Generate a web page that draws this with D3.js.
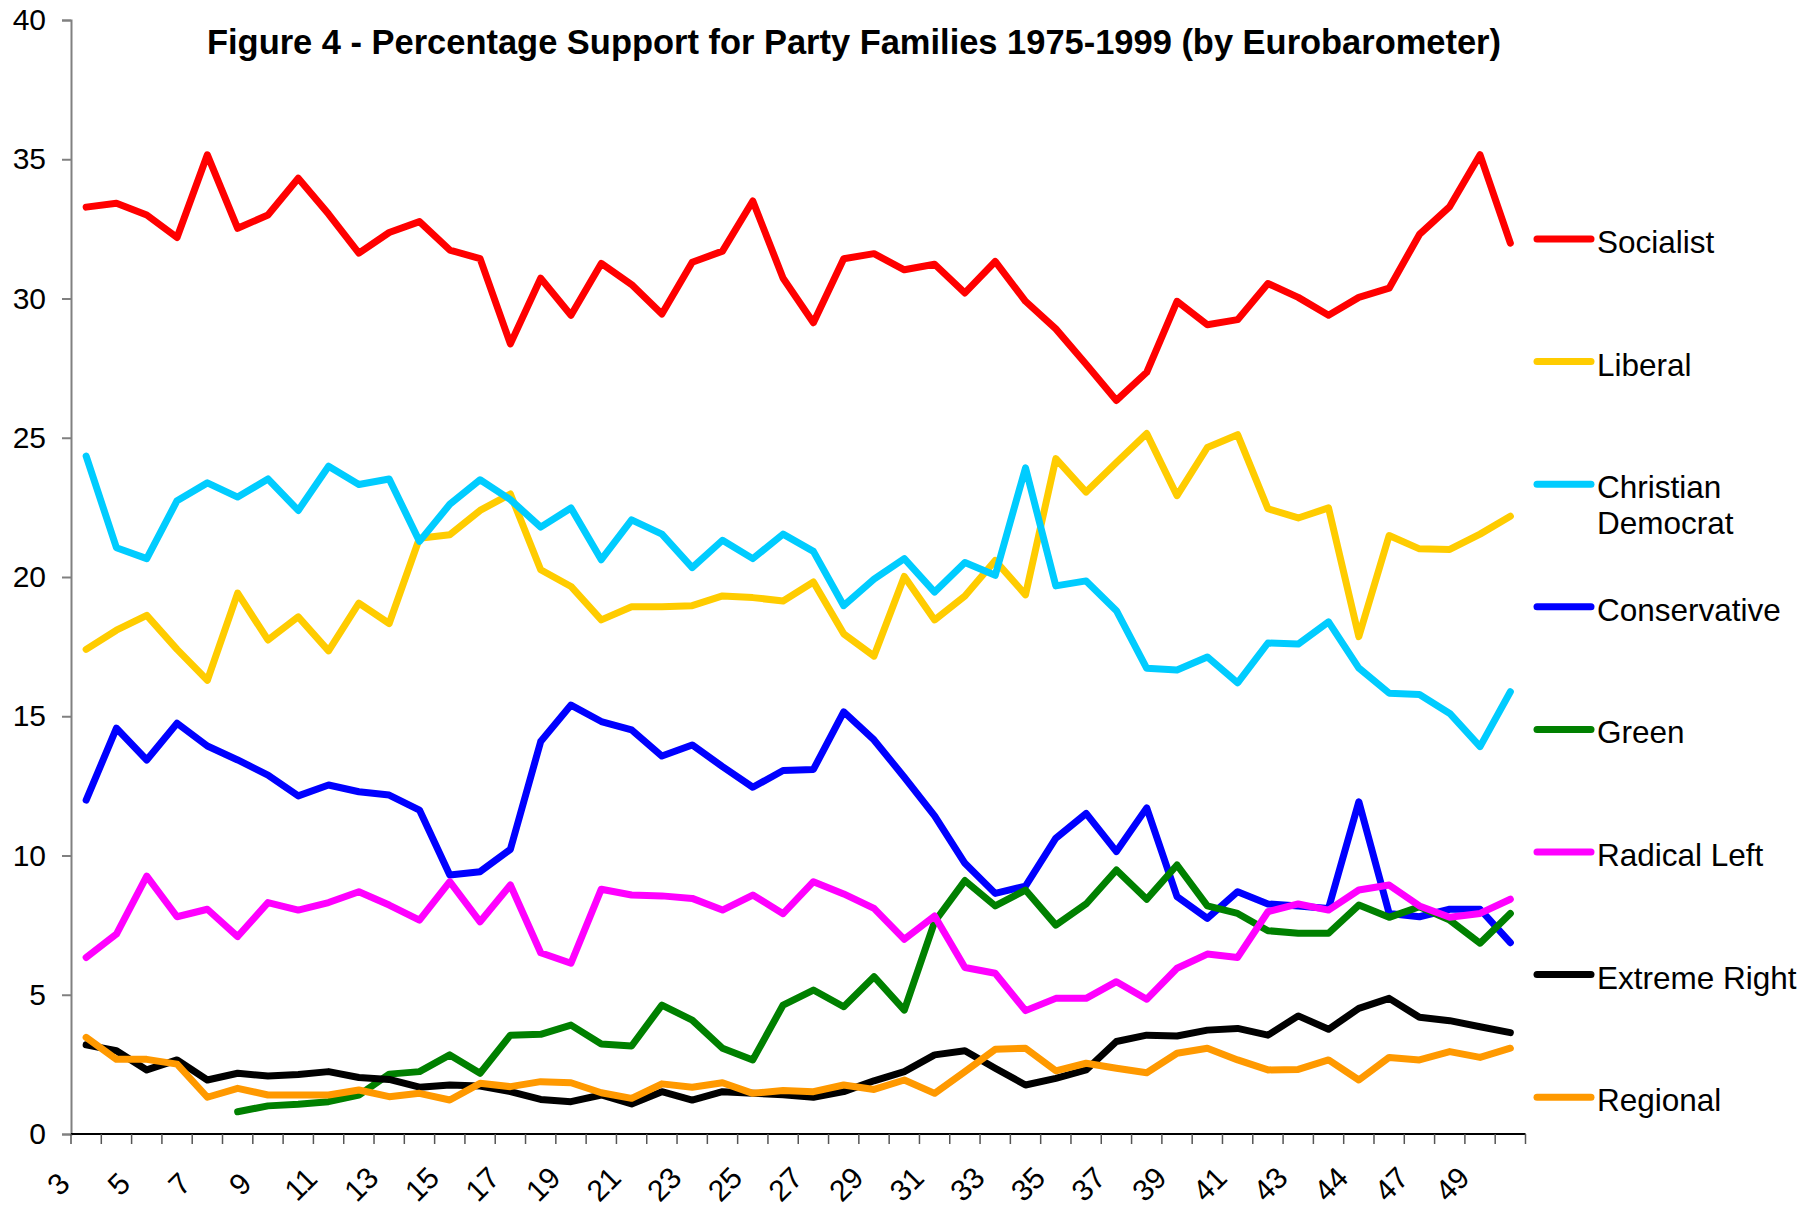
<!DOCTYPE html>
<html>
<head>
<meta charset="utf-8">
<script src="https://cdn.jsdelivr.net/npm/d3@7"></script>
<style>
  body { margin: 0; background: #fff; }
  text { font-family: "Liberation Sans", Arial, sans-serif; fill: #000; }
</style>
</head>
<body>
<svg id="chart" width="1820" height="1208"></svg>
<script>
///////////////////////////////////////////////////
// Data
///////////////////////////////////////////////////

// Eurobarometer survey numbers (only every other one is printed on the axis)
const surveys = ["3","4","5","6","7","8","9","10","11","12","13","14","15","16","17","18",
  "19","20","21","22","23","24","25","26","27","28","29","30","31","32","33","34","35",
  "36","37","38","39","40","41","42","43","44","44","46","47","48","49","50"];

const socialist = [33.28,33.42,33.0,32.19,35.16,32.52,33.0,34.32,33.03,31.63,32.37,32.76,
  31.74,31.43,28.37,30.73,29.40,31.26,30.50,29.44,31.30,31.70,33.50,30.73,
  29.13,31.43,31.61,31.03,31.23,30.20,31.33,29.90,28.91,27.64,26.34,27.35,
  29.90,29.06,29.24,30.54,30.04,29.40,30.04,30.37,32.30,33.30,35.16,31.99];

const liberal = [17.40,18.09,18.62,17.40,16.29,19.42,17.74,18.57,17.35,19.06,18.33,21.39,
  21.52,22.39,22.98,20.26,19.66,18.46,18.93,18.93,18.97,19.32,19.26,19.14,
  19.82,17.96,17.16,20.02,18.46,19.32,20.59,19.36,24.25,23.05,24.11,25.15,
  22.92,24.65,25.11,22.45,22.12,22.48,17.86,21.49,21.01,20.99,21.54,22.18];

const christianDemocrat = [24.34,21.05,20.66,22.74,23.38,22.87,23.52,22.39,23.98,23.32,23.52,21.28,
  22.61,23.49,22.78,21.79,22.48,20.62,22.05,21.54,20.34,21.32,20.66,21.54,
  20.92,18.97,19.92,20.66,19.46,20.52,20.06,23.92,19.68,19.86,18.79,16.72,
  16.66,17.13,16.20,17.63,17.59,18.39,16.73,15.83,15.78,15.10,13.91,15.88];

const conservative = [11.99,14.57,13.43,14.75,13.93,13.43,12.89,12.14,12.53,12.29,12.17,11.63,
  9.30,9.42,10.22,14.09,15.40,14.81,14.51,13.57,13.97,13.19,12.45,13.05,
  13.09,15.16,14.15,12.81,11.42,9.72,8.64,8.90,10.62,11.51,10.14,11.71,
  8.52,7.74,8.70,8.26,8.19,8.10,11.93,7.92,7.80,8.07,8.07,6.87];

const green = [null,null,null,null,null,0.80,1.01,1.07,1.16,1.40,2.15,2.24,
  2.84,2.18,3.55,3.58,3.91,3.23,3.16,4.63,4.09,3.08,2.66,4.63,
  5.17,4.57,5.65,4.45,7.62,9.10,8.19,8.76,7.50,8.26,9.48,8.43,
  9.66,8.19,7.92,7.30,7.21,7.21,8.22,7.78,8.16,7.68,6.85,7.92];

const radicalLeft = [6.34,7.18,9.26,7.80,8.07,7.09,8.31,8.04,8.31,8.70,8.22,7.68,
  9.06,7.62,8.94,6.51,6.13,8.79,8.58,8.55,8.46,8.04,8.58,7.91,
  9.06,8.62,8.10,6.99,7.83,5.98,5.77,4.43,4.87,4.87,5.47,4.84,
  5.95,6.46,6.34,7.98,8.26,8.04,8.76,8.94,8.19,7.78,7.92,8.43];

const extremeRight = [3.20,2.99,2.30,2.66,1.94,2.18,2.08,2.14,2.24,2.03,1.96,1.68,
  1.76,1.72,1.52,1.24,1.16,1.40,1.08,1.52,1.22,1.52,1.46,1.41,
  1.32,1.52,1.91,2.24,2.84,2.99,2.36,1.76,2.00,2.30,3.32,3.55,
  3.52,3.73,3.79,3.55,4.24,3.76,4.51,4.87,4.19,4.07,3.85,3.64];

const regional = [3.47,2.68,2.68,2.51,1.32,1.64,1.40,1.40,1.40,1.58,1.34,1.46,
  1.22,1.82,1.70,1.88,1.84,1.48,1.28,1.80,1.68,1.84,1.46,1.56,
  1.52,1.76,1.60,1.94,1.46,2.24,3.04,3.08,2.27,2.54,2.36,2.20,
  2.90,3.08,2.66,2.30,2.32,2.66,1.94,2.75,2.66,2.96,2.75,3.08];

const seriesNames = ["Socialist", "Liberal", "Christian Democrat", "Conservative",
  "Green", "Radical Left", "Extreme Right", "Regional"];
const seriesColors = ["#ff0000", "#ffcc00", "#00ccff", "#0000ff",
  "#008000", "#ff00ff", "#000000", "#ff9900"];
const yTicks = [0, 5, 10, 15, 20, 25, 30, 35, 40];

const titleText = "Figure 4 - Percentage Support for Party Families 1975-1999 (by Eurobarometer)";

const series = [socialist, liberal, christianDemocrat, conservative,
  green, radicalLeft, extremeRight, regional].map(function(values, i) {
    return { name: seriesNames[i], color: seriesColors[i], values: values };
  });

///////////////////////////////////////////////////
// Setup
///////////////////////////////////////////////////

const svg = d3.select("#chart");
const plot = { left: 71, right: 1525.5, top: 20, bottom: 1134 };

const x = d3.scaleBand()
  .domain(d3.range(surveys.length))
  .range([plot.left, plot.right])
  .padding(0);

const y = d3.scaleLinear()
  .domain([0, 40])
  .range([plot.bottom, plot.top]);

const cx = function(i) { return x(i) + x.bandwidth() / 2; };

// title
svg.append("text")
  .attr("x", 854)
  .attr("y", 54)
  .attr("text-anchor", "middle")
  .attr("textLength", 1294)
  .attr("lengthAdjust", "spacingAndGlyphs")
  .style("font-family", "'Liberation Sans Narrow', 'Arial Narrow', 'Liberation Sans', Arial, sans-serif")
  .style("font-weight", "bold")
  .style("font-size", "35px")
  .text(titleText);

///////////////////////////////////////////////////
// Axes
///////////////////////////////////////////////////

// y axis
const yAxis = svg.append("g")
  .attr("transform", "translate(" + plot.left + ",0)")
  .call(d3.axisLeft(y).tickValues(yTicks).tickSize(9).tickPadding(16));

yAxis.select(".domain").attr("stroke", "#808080").attr("stroke-width", 2);
yAxis.selectAll(".tick line").attr("stroke", "#808080").attr("stroke-width", 2);
yAxis.selectAll(".tick text")
  .style("font-size", "30px")
  .style("font-family", "'Liberation Sans', Arial, sans-serif")
  .attr("fill", "#000");

// x axis: ticks sit on the category boundaries
const xAxis = svg.append("g")
  .attr("transform", "translate(0," + plot.bottom + ")");

xAxis.append("line")
  .attr("x1", plot.left)
  .attr("x2", plot.right)
  .attr("stroke", "#000")
  .attr("stroke-width", 2);

xAxis.selectAll(".xtick")
  .data(d3.range(surveys.length + 1))
  .enter().append("line")
  .attr("class", "xtick")
  .attr("x1", function(i) { return plot.left + i * x.step(); })
  .attr("x2", function(i) { return plot.left + i * x.step(); })
  .attr("y1", 0)
  .attr("y2", 10)
  .attr("stroke", "#555")
  .attr("stroke-width", 1.5);

xAxis.selectAll(".xlabel")
  .data(d3.range(0, surveys.length, 2))
  .enter().append("text")
  .attr("class", "xlabel")
  .attr("transform", function(i) {
    return "translate(" + (cx(i) - 28) + ",50) rotate(-45)";
  })
  .attr("text-anchor", "middle")
  .attr("dominant-baseline", "central")
  .style("font-size", "30px")
  .text(function(i) { return surveys[i]; });

///////////////////////////////////////////////////
// Lines
///////////////////////////////////////////////////

const line = d3.line()
  .defined(function(d) { return d !== null; })
  .x(function(d, i) { return cx(i); })
  .y(function(d) { return y(d); });

svg.append("g").selectAll(".series")
  .data(series)
  .enter().append("path")
  .attr("class", "series")
  .attr("fill", "none")
  .attr("stroke", function(d) { return d.color; })
  .attr("stroke-width", 7)
  .attr("stroke-linejoin", "round")
  .attr("stroke-linecap", "round")
  .attr("d", function(d) { return line(d.values); });

///////////////////////////////////////////////////
// Legend
///////////////////////////////////////////////////

const legend = svg.append("g").selectAll(".legend")
  .data(series)
  .enter().append("g")
  .attr("class", "legend")
  .attr("transform", function(d, i) { return "translate(1537," + (239 + i * 122.6) + ")"; });

legend.append("line")
  .attr("x1", 0)
  .attr("x2", 54)
  .attr("stroke", function(d) { return d.color; })
  .attr("stroke-width", 7)
  .attr("stroke-linecap", "round");

legend.append("text")
  .attr("x", 60)
  .attr("y", 14)
  .style("font-size", "31.5px")
  .each(function(d) {
    const words = d.name === "Christian Democrat" ? ["Christian", "Democrat"] : [d.name];
    d3.select(this).selectAll("tspan")
      .data(words)
      .enter().append("tspan")
      .attr("x", 60)
      .attr("dy", function(w, k) { return k === 0 ? 0 : 36; })
      .text(function(w) { return w; });
  });
</script>
</body>
</html>
